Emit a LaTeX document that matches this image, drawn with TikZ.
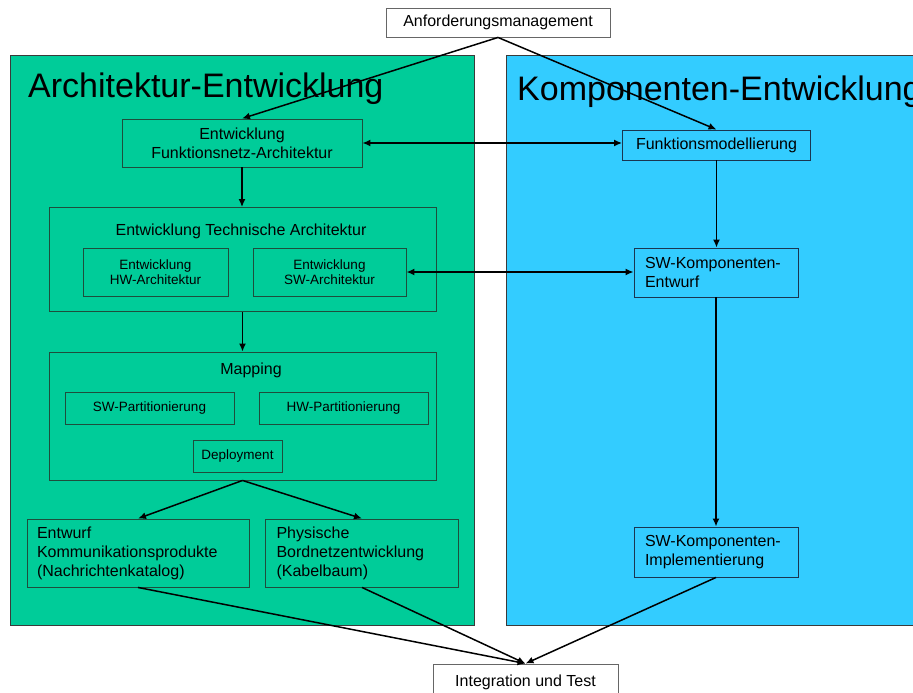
\documentclass[tikz,border=0pt]{standalone}
\usepackage{fontspec}
\setmainfont{Liberation Sans}
\usetikzlibrary{arrows.meta}
\definecolor{archgreen}{HTML}{00CC99}
\definecolor{compblue}{HTML}{33CCFF}
\definecolor{greenline}{HTML}{1E4D3C}
\definecolor{blueline}{HTML}{1A3550}
\definecolor{panelline}{HTML}{3A3A3A}
\begin{document}
\begin{tikzpicture}[x=1pt,y=-1pt,
  medfont/.style={font=\fontsize{16}{19}\selectfont},
  smallfont/.style={font=\fontsize{13.5}{15}\selectfont},
  titlefont/.style={font=\fontsize{34}{40}\selectfont},
  gbox/.style={draw=greenline, line width=0.9pt, inner sep=0pt, align=center, medfont},
  bbox/.style={draw=blueline, line width=0.9pt, inner sep=0pt, align=center, medfont},
  wbox/.style={draw=black!60, fill=white, line width=0.9pt, inner sep=0pt, align=center, medfont},
  leftbox/.style={align=left, inner xsep=#1, inner ysep=0pt},
  link/.style={line width=1.5pt, -{Latex[length=8pt,width=7pt]}},
  dlink/.style={line width=1.5pt, {Latex[length=8pt,width=7pt]}-{Latex[length=8pt,width=7pt]}}
]
\useasboundingbox (0,0) rectangle (913,693);
\begin{scope}
\clip (0,0) rectangle (913,693);
\fill[white] (0,0) rectangle (913,693);

% the two swim-lane panels
\filldraw[fill=archgreen, draw=panelline, line width=0.9pt] (10,55.5) rectangle (474,625);
\fill[compblue] (506,55.5) rectangle (913,625);
\draw[panelline, line width=0.9pt] (913,55.5) -- (506,55.5) -- (506,625) -- (913,625);

\node[titlefont, anchor=base west, inner sep=0pt] (archtitle) at (28,97) {Architektur-Entwicklung};
\node[titlefont, anchor=base west, inner sep=0pt] (comptitle) at (517,100) {Komponenten-Entwicklung};

% top and bottom boxes
\node[wbox, minimum width=224, minimum height=29] (anf) at (498,22.5) {Anforderungsmanagement};
\node[wbox, minimum width=185, minimum height=36] (int) at (525.5,682) {Integration und Test};

% architecture lane
\node[gbox, minimum width=240, minimum height=48] (fna) at (242,143) {Entwicklung\\Funktionsnetz-Architektur};

\node[gbox, minimum width=387, minimum height=104] (ta) at (242.5,259.5) {};
\node[medfont, inner sep=0pt] (tatitle) at (241,231) {Entwicklung Technische Architektur};
\node[gbox, smallfont, minimum width=145, minimum height=48] (hwa) at (155.5,272) {Entwicklung\\HW-Architektur};
\node[gbox, smallfont, minimum width=153, minimum height=48] (swa) at (329.5,272) {Entwicklung\\SW-Architektur};

\node[gbox, minimum width=387, minimum height=128] (map) at (242.5,416) {};
\node[medfont, inner sep=0pt] (maptitle) at (251,370) {Mapping};
\node[gbox, smallfont, minimum width=169, minimum height=32] (swp) at (149.5,408) {SW-Partitionierung};
\node[gbox, smallfont, minimum width=169, minimum height=32] (hwp) at (343.5,408) {HW-Partitionierung};
\node[gbox, smallfont, minimum width=89, minimum height=32] (dep) at (237.5,456) {Deployment};

\node[gbox, leftbox=10pt, text width=202, minimum width=222, minimum height=68] (ek) at (138,553)
  {Entwurf\\Kommunikationsprodukte\\(Nachrichtenkatalog)};
\node[gbox, leftbox=11pt, text width=171, minimum width=193, minimum height=68] (pb) at (362,553)
  {Physische\\Bordnetzentwicklung\\(Kabelbaum)};

% component lane
\node[bbox, minimum width=188, minimum height=30] (fm) at (716.5,145) {Funktionsmodellierung};
\node[bbox, leftbox=11pt, text width=142, minimum width=164, minimum height=49] (ske) at (716,272.5)
  {SW-Komponenten-\\Entwurf};
\node[bbox, leftbox=11pt, text width=142, minimum width=164, minimum height=50] (impl) at (716,552)
  {SW-Komponenten-\\Implementierung};

% connectors
\draw[link] (anf.south) -- (fna.north);
\draw[link] (anf.south) -- (fm.north);
\draw[dlink] (fna.east) -- (fna.east -| fm.west);
\draw[link] (fna.south) -- (fna.south |- ta.north);
\draw[link] (fm.south) -- (fm.south |- ske.north);
\draw[dlink] (swa.east) -- (swa.east -| ske.west);
\draw[link] (ta.south) -- (map.north);
\draw[link] (map.south) -- (ek.north);
\draw[link] (map.south) -- (pb.north);
\draw[link] (ske.south) -- (impl.north);
\draw[link] (ek.south) -- (int.north);
\draw[link] (pb.south) -- (int.north);
\draw[link] (impl.south) -- (int.north);
\end{scope}
\end{tikzpicture}
\end{document}
